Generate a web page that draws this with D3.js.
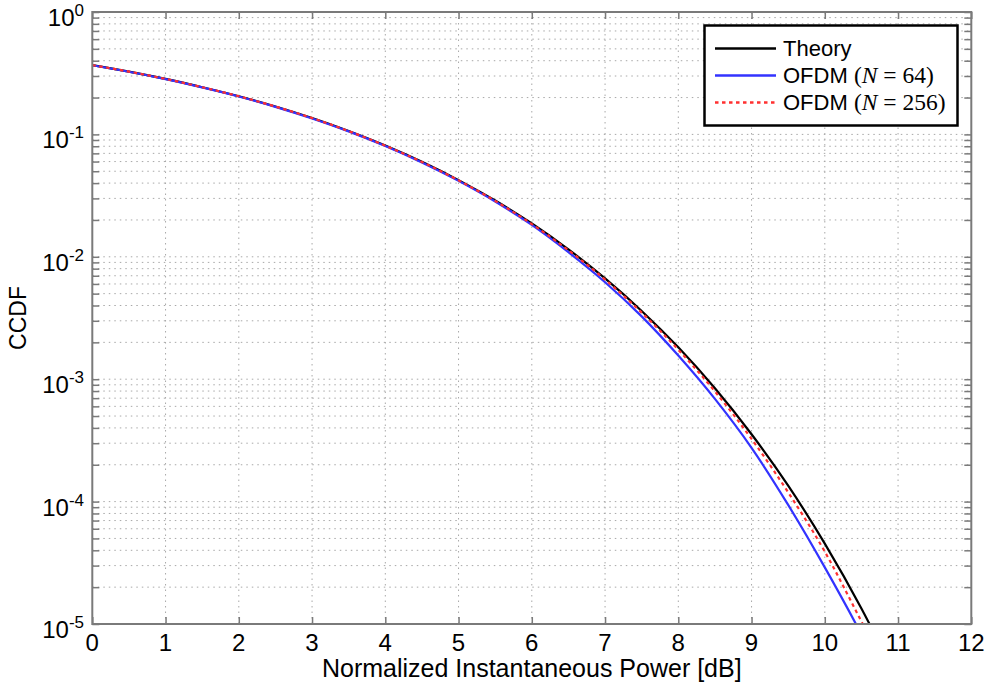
<!DOCTYPE html>
<html lang="en">
<head>
  <meta charset="UTF-8">
  <script type="text/javascript" src="https://cdn.jsdelivr.net/npm/d3@7/dist/d3.min.js"></script>
  <title>CCDF</title>
  <style type="text/css">
    * { margin: 0; padding: 0; }
    html, body { width: 100%; height: 100%; background-color: #fff; }
    svg { display: block; }
    text { font-family: "Liberation Sans", Arial, sans-serif; fill: #000; }
  </style>
</head>
<body>
<div id="box"></div>
</body>
<script type="text/javascript">
  // data (power in dB, CCDF values)
  var xPower = [0, 0.5, 1, 1.5, 2, 2.5, 3, 3.5, 4, 4.5, 5, 5.5, 6, 6.5, 7, 7.5, 8, 8.5, 9, 9.5, 10, 10.5, 11]
  var theory = [0.368, 0.326, 0.284, 0.243, 0.205, 0.169, 0.136, 0.1066, 0.0811, 0.0597, 0.0423, 0.0288, 0.0187, 0.0115,
    0.00666, 0.00361, 0.00182, 0.000843, 0.000355, 0.000135, 4.54e-5, 1.34e-5, 3.4e-6]
  var ofdm64 = [0.367, 0.325, 0.283, 0.242, 0.204, 0.168, 0.135, 0.1058, 0.0803, 0.0590, 0.0417, 0.0283, 0.0182, 0.0109,
    0.0062, 0.00326, 0.00156, 0.00069, 0.000275, 9.4e-5, 2.9e-5, 8.2e-6, 2e-6]
  var ofdm256 = [0.368, 0.326, 0.284, 0.243, 0.205, 0.169, 0.136, 0.1064, 0.0809, 0.0595, 0.0421, 0.0286, 0.0185, 0.0113,
    0.00652, 0.00350, 0.00174, 0.000795, 0.000325, 0.000119, 3.9e-5, 1.05e-5, 2.8e-6]

  var xTicks = [0, 1, 2, 3, 4, 5, 6, 7, 8, 9, 10, 11, 12]
  var yExponents = [0, -1, -2, -3, -4, -5]
  var xTitle = 'Normalized Instantaneous Power [dB]'
  var yTitle = 'CCDF'

  // canvas
  var width = 989
  var height = 691
  var pLeft = 92.3, pTop = 12, pRight = 971.3, pBottom = 624

  var svg = d3.select('#box')
    .append('svg')
    .attr('width', width)
    .attr('height', height)

  var x = d3.scaleLinear().domain([0, 12]).range([pLeft, pRight])
  var y = d3.scaleLog().domain([1e-5, 1]).range([pBottom, pTop])

  var gridColor = '#a8a8a8'
  var axisColor = '#7a7a7a'

  // grid (dotted, major + minor)
  var grid = svg.append('g')
  grid.selectAll('line.gx')
    .data(xTicks.slice(1, -1))
    .enter()
    .append('line')
    .attr('x1', function (d) { return x(d) })
    .attr('x2', function (d) { return x(d) })
    .attr('y1', pTop)
    .attr('y2', pBottom)
    .attr('stroke', gridColor)
    .attr('stroke-width', 1)
    .attr('stroke-dasharray', '1.5,4')
  grid.selectAll('line.gy')
    .data(y.ticks().filter(function (d) { return d > 1.5e-5 && d < 0.95 }))
    .enter()
    .append('line')
    .attr('x1', pLeft)
    .attr('x2', pRight)
    .attr('y1', function (d) { return y(d) })
    .attr('y2', function (d) { return y(d) })
    .attr('stroke', gridColor)
    .attr('stroke-width', 1)
    .attr('stroke-dasharray', '1.5,4')

  // ticks on all four sides, pointing inward
  function styleAxis(g) {
    g.select('.domain').remove()
    g.selectAll('.tick line').attr('stroke', axisColor).attr('stroke-width', 1.5)
    g.selectAll('.tick text').remove()
  }
  svg.append('g').attr('transform', 'translate(0,' + pBottom + ')')
    .call(d3.axisBottom(x).tickValues(xTicks).tickSize(-7)).call(styleAxis)
  svg.append('g').attr('transform', 'translate(0,' + pTop + ')')
    .call(d3.axisTop(x).tickValues(xTicks).tickSize(-7)).call(styleAxis)
  svg.append('g').attr('transform', 'translate(' + pLeft + ',0)')
    .call(d3.axisLeft(y).tickValues(y.ticks()).tickSize(-7)).call(styleAxis)
  svg.append('g').attr('transform', 'translate(' + pRight + ',0)')
    .call(d3.axisRight(y).tickValues(y.ticks()).tickSize(-7)).call(styleAxis)

  // curves
  svg.append('clipPath').attr('id', 'clip')
    .append('rect')
    .attr('x', pLeft).attr('y', pTop)
    .attr('width', pRight - pLeft).attr('height', pBottom - pTop)

  var line = d3.line()
    .x(function (d) { return x(d[0]) })
    .y(function (d) { return y(d[1]) })
    .curve(d3.curveMonotoneX)

  var series = [
    {values: theory, color: '#000000', dash: null},
    {values: ofdm64, color: '#3333ff', dash: null},
    {values: ofdm256, color: '#ff3030', dash: '3.5,3.5'}
  ]

  var curves = svg.append('g').attr('clip-path', 'url(#clip)')
  curves.selectAll('path')
    .data(series)
    .enter()
    .append('path')
    .attr('d', function (s) { return line(d3.zip(xPower, s.values)) })
    .attr('fill', 'none')
    .attr('stroke', function (s) { return s.color })
    .attr('stroke-width', 2.2)
    .attr('stroke-dasharray', function (s) { return s.dash })

  // box
  svg.append('rect')
    .attr('x', pLeft).attr('y', pTop)
    .attr('width', pRight - pLeft).attr('height', pBottom - pTop)
    .attr('fill', 'none')
    .attr('stroke', axisColor)
    .attr('stroke-width', 2)

  // tick labels
  svg.selectAll('text.xl')
    .data(xTicks)
    .enter()
    .append('text')
    .attr('x', function (d) { return x(d) })
    .attr('y', 651)
    .attr('text-anchor', 'middle')
    .style('font-size', '24px')
    .text(function (d) { return d })

  var yl = svg.selectAll('text.yl')
    .data(yExponents)
    .enter()
    .append('text')
    .attr('x', 84)
    .attr('y', function (d) { return y(Math.pow(10, d)) + 14 })
    .attr('text-anchor', 'end')
  yl.append('tspan').style('font-size', '24px').text('10')
  yl.append('tspan').style('font-size', '17px').attr('dy', -10).text(function (d) { return d })

  // axis titles
  svg.append('text')
    .attr('x', (pLeft + pRight) / 2)
    .attr('y', 677)
    .attr('text-anchor', 'middle')
    .style('font-size', '25px')
    .text(xTitle)

  svg.append('text')
    .attr('transform', 'translate(26,' + (pTop + pBottom) / 2 + ') rotate(-90)')
    .attr('text-anchor', 'middle')
    .style('font-size', '23px')
    .text(yTitle)

  // legend
  var legend = svg.append('g')
  legend.append('rect')
    .attr('x', 704.5).attr('y', 25.5)
    .attr('width', 253).attr('height', 100)
    .attr('fill', '#fff')
    .attr('stroke', '#000')
    .attr('stroke-width', 2.5)

  var legendItems = [
    {label: 'Theory', n: null, s: series[0]},
    {label: 'OFDM ', n: '64', s: series[1]},
    {label: 'OFDM ', n: '256', s: series[2]}
  ]
  var rows = legend.selectAll('g.row')
    .data(legendItems)
    .enter()
    .append('g')
    .attr('transform', function (d, i) { return 'translate(0,' + (48.5 + i * 27) + ')' })
  rows.append('line')
    .attr('x1', 715).attr('x2', 776)
    .attr('stroke', function (d) { return d.s.color })
    .attr('stroke-width', 2.5)
    .attr('stroke-dasharray', function (d) { return d.s.dash })
  var lt = rows.append('text')
    .attr('x', 783)
    .attr('y', 7.5)
    .style('font-size', '22px')
  lt.append('tspan').text(function (d) { return d.label })
  lt.filter(function (d) { return d.n }).each(function (d) {
    var t = d3.select(this)
    var serif = '"Liberation Serif", "DejaVu Serif", serif'
    t.append('tspan').style('font-family', serif).style('font-size', '23.5px').text('(')
    t.append('tspan').style('font-family', serif).style('font-size', '23.5px').style('font-style', 'italic').text('N')
    t.append('tspan').style('font-family', serif).style('font-size', '23.5px').text(' = ' + d.n + ')')
  })
</script>
</html>
